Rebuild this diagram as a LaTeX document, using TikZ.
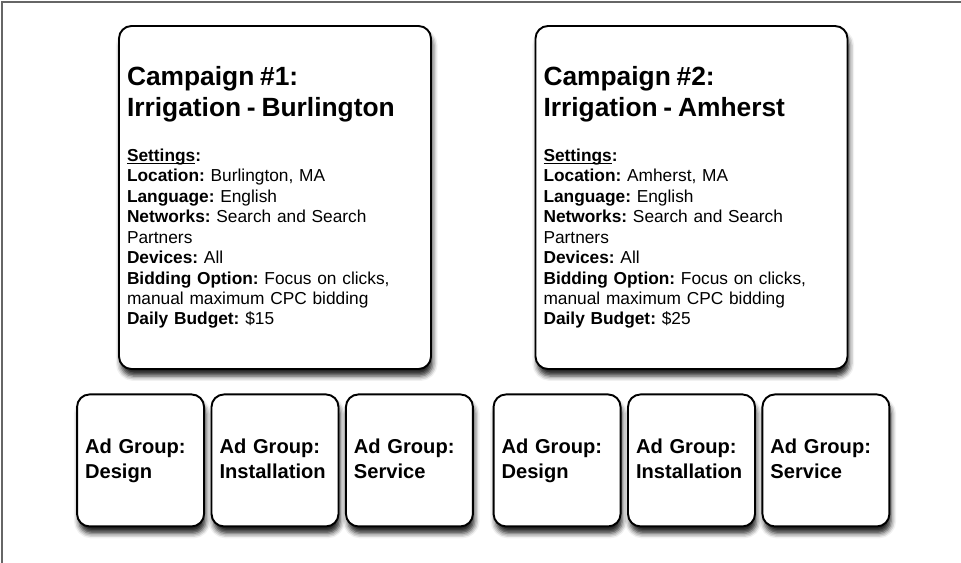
\documentclass[tikz,border=0pt]{standalone}
\usepackage{fontspec}
\setmainfont{Liberation Sans}
\usetikzlibrary{positioning, calc, shadows, shadows.blur}
\frenchspacing

% heading of a campaign box
\newcommand{\camptitle}{\fontsize{15}{17.6}\selectfont\bfseries}
% underline that sits close to the baseline
\newcommand{\uword}[1]{\setbox0\hbox{#1}\rlap{\rule[-1.5pt]{\wd0}{0.6pt}}\box0}

\begin{document}
\begin{tikzpicture}[
    font=\fontsize{9.85}{11.62}\selectfont,
    card/.style={draw, line width=1.1pt, fill=white, rounded corners=0.25cm,
        blur shadow={shadow xshift=1pt, shadow yshift=-4pt, shadow blur radius=2.8pt, shadow opacity=85}},
    campaign/.style={card, minimum width=6.24cm, minimum height=6.86cm, text width=5.92cm, inner sep=0.16cm, align=left},
    adgroup/.style={card, minimum width=2.54cm, minimum height=2.64cm, text width=2.22cm, inner sep=0.16cm, align=left,
        font=\fontsize{11.45}{14.2}\selectfont\bfseries},
    frame/.style={draw=black!60, line width=0.8pt}
]

    \useasboundingbox (0,0) rectangle (19.22,-11.26);

    % --- Outer frame (top and left edge) ---
    \draw[frame] (0.04,-11.26) -- (0.04,-0.04) -- (19.22,-0.04);

    % --- Campaigns ---
    \node[campaign] (camp1) at (5.5,-3.95) {
        {\camptitle Campaign \#1:\\Irrigation - Burlington\par}
        \vspace{14pt}
        \textbf{\uword{Settings}:}\\
        \textbf{Location:} Burlington, MA\\
        \textbf{Language:} English\\
        \textbf{Networks:} Search and Search\\
        Partners\\
        \textbf{Devices:} All\\
        \textbf{Bidding Option:} Focus on clicks,\\
        manual maximum CPC bidding\\
        \textbf{Daily Budget:} \$15
    };
    \node[campaign] (camp2) at (13.83,-3.95) {
        {\camptitle Campaign \#2:\\Irrigation - Amherst\par}
        \vspace{14pt}
        \textbf{\uword{Settings}:}\\
        \textbf{Location:} Amherst, MA\\
        \textbf{Language:} English\\
        \textbf{Networks:} Search and Search\\
        Partners\\
        \textbf{Devices:} All\\
        \textbf{Bidding Option:} Focus on clicks,\\
        manual maximum CPC bidding\\
        \textbf{Daily Budget:} \$25
    };

    % --- Ad groups of campaign 1 ---
    \node[adgroup, below=0.47cm of camp1] (install1) {Ad Group:\\Installation\vphantom{g}};
    \node[adgroup, left=0.11cm of install1] (design1) {Ad Group:\\Design};
    \node[adgroup, right=0.11cm of install1] (service1) {Ad Group:\\Service\vphantom{g}};

    % --- Ad groups of campaign 2 ---
    \node[adgroup, below=0.47cm of camp2] (install2) {Ad Group:\\Installation\vphantom{g}};
    \node[adgroup, left=0.11cm of install2] (design2) {Ad Group:\\Design};
    \node[adgroup, right=0.11cm of install2] (service2) {Ad Group:\\Service\vphantom{g}};

\end{tikzpicture}
\end{document}
